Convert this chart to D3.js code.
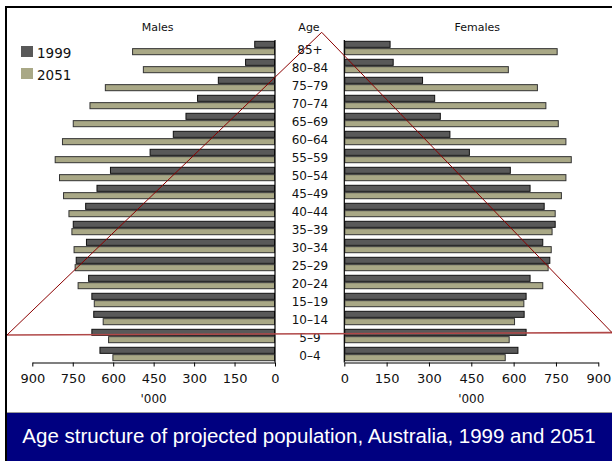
<!DOCTYPE html>
<html>
<head>
<meta charset="utf-8">
<script src="https://cdn.jsdelivr.net/npm/d3@7"></script>
<style>
  html, body { margin: 0; padding: 0; background: #fff; }
  svg { display: block; }
</style>
</head>
<body>
<svg id="chart" width="612" height="461"></svg>
<script>
// ---------- DATA ----------
const ageGroups = ["85+","80–84","75–79","70–74","65–69","60–64","55–59","50–54","45–49",
                   "40–44","35–39","30–34","25–29","20–24","15–19","10–14","5–9","0–4"];
const years = ["1999","2051"];
const males1999   = [77,111,212,289,332,379,465,612,662,704,750,701,739,693,681,674,681,651];
const males2051   = [530,490,631,688,750,790,817,801,786,766,755,747,743,732,672,639,619,603];
const females1999 = [164,175,279,322,342,376,445,590,660,710,749,705,730,660,646,639,646,617];
const females2051 = [756,583,686,716,760,787,806,787,771,749,738,735,724,705,638,605,586,572];
const tickValues  = [0,150,300,450,600,750,900];
const axisUnit    = "'000";
const panelTitles = ["Males","Age","Females"];
const chartTitle  = "Age structure of projected population, Australia, 1999 and 2051";

// ---------- STYLE ----------
const colors = { "1999": "#595959", "2051": "#a9a886" };
const strokes = { "1999": "#111111", "2051": "#333333" };
const font = "'DejaVu Sans', Verdana, sans-serif";

const svg = d3.select("#chart");

// frame
svg.append("rect").attr("x",5).attr("y",6).attr("width",607).attr("height",2).attr("fill","#000");
svg.append("rect").attr("x",5).attr("y",6).attr("width",2).attr("height",455).attr("fill","#000");

// scales
const y = d3.scaleBand().domain(ageGroups).range([39, 363]).paddingInner(0.2).paddingOuter(0.1);
const ySub = d3.scaleBand().domain(years).range([0, y.bandwidth()]).paddingInner(0.04);
const xL = d3.scaleLinear().domain([0, 900]).range([275, 32.3]);
const xR = d3.scaleLinear().domain([0, 900]).range([344.3, 598.3]);
const axisY = 362.5;

const maleRows = ageGroups.map((a,i)=>({age:a, "1999":males1999[i], "2051":males2051[i]}));
const femaleRows = ageGroups.map((a,i)=>({age:a, "1999":females1999[i], "2051":females2051[i]}));

function drawBars(rows, x, left) {
  const g = svg.append("g");
  rows.forEach(r => {
    years.forEach(yr => {
      const v = r[yr];
      const x0 = left ? x(v) : x(0);
      const w = Math.abs(x(v) - x(0));
      g.append("rect")
        .attr("x", x0 + 0.5)
        .attr("y", y(r.age) + ySub(yr) + 0.5)
        .attr("width", Math.max(0, w - 1))
        .attr("height", ySub.bandwidth() - 1)
        .attr("fill", colors[yr])
        .attr("stroke", strokes[yr])
        .attr("stroke-width", 1);
    });
  });
}
drawBars(maleRows, xL, true);
drawBars(femaleRows, xR, false);

// vertical axes
svg.append("line").attr("x1",xL(0)).attr("x2",xL(0)).attr("y1",40).attr("y2",axisY)
   .attr("stroke","#000").attr("stroke-width",1.2);
svg.append("line").attr("x1",xR(0)).attr("x2",xR(0)).attr("y1",40).attr("y2",axisY)
   .attr("stroke","#000").attr("stroke-width",1.2);

// bottom axes
function drawAxis(x) {
  const g = svg.append("g").attr("transform", `translate(0,${axisY})`)
    .call(d3.axisBottom(x).tickValues(tickValues).tickSize(4).tickSizeOuter(0).tickPadding(7).tickFormat(d3.format("d")));
  g.select(".domain").attr("stroke","#000").attr("stroke-width",1.2);
  g.selectAll(".tick line").attr("stroke","#000");
  g.selectAll("text").attr("font-family", font).attr("font-size", 13).attr("fill","#111");
  const r = x.range();
  svg.append("text").attr("x",(r[0]+r[1])/2).attr("y",403)
    .attr("text-anchor","middle").attr("font-family",font).attr("font-size",12).attr("fill","#111")
    .text(axisUnit);
}
drawAxis(xL);
drawAxis(xR);

// age labels
svg.append("g").selectAll("text").data(ageGroups).join("text")
  .attr("x", 310)
  .attr("y", d => y(d) + y.bandwidth()/2 + 2)
  .attr("dy", "0.35em")
  .attr("text-anchor","middle")
  .attr("font-family", font).attr("font-size", 12).attr("fill","#111")
  .text(d => d);

// panel titles
const titleX = [(xL(0)+xL(900))/2 + 4, 309, (xR(0)+xR(900))/2 + 6];
panelTitles.forEach((t,i) => {
  svg.append("text").attr("x", titleX[i]).attr("y", 31)
    .attr("text-anchor","middle").attr("font-family",font).attr("font-size",11).attr("fill","#111")
    .text(t);
});

// legend
years.forEach((yr,i) => {
  svg.append("rect").attr("x",21).attr("y",46 + i*22).attr("width",12).attr("height",11).attr("fill",colors[yr]);
  svg.append("text").attr("x",37).attr("y",58 + i*22)
    .attr("font-family",font).attr("font-size",13.5).attr("fill","#111").text(yr);
});

// annotation: red triangle
const apex = [321.7, 32.3], baseL = [7, 335], baseR = [612, 332.6];
svg.append("line").attr("x1",baseL[0]).attr("y1",baseL[1]).attr("x2",baseR[0]).attr("y2",baseR[1])
  .attr("stroke","#b04848").attr("stroke-width",1.6);
svg.append("path").attr("d", d3.line()([baseL, apex, baseR]))
  .attr("fill","none").attr("stroke","#8b0000").attr("stroke-width",1);

// title banner
svg.append("rect").attr("x",7).attr("y",412).attr("width",605).attr("height",1).attr("fill","#9a9a9a");
svg.append("rect").attr("x",7).attr("y",413).attr("width",605).attr("height",48).attr("fill","#000080");
svg.append("text").attr("x",309).attr("y",443).attr("text-anchor","middle")
  .attr("font-family","'Liberation Sans', Arial, sans-serif").attr("font-size",20.5).attr("fill","#fff")
  .text(chartTitle);
</script>
</body>
</html>
